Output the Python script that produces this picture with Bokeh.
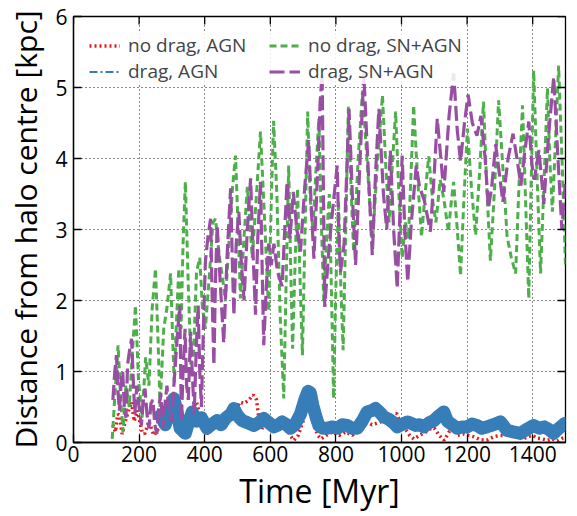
import math
from bokeh.plotting import figure
from bokeh.models import Range1d, Legend, LegendItem, FixedTicker
from bokeh.embed import file_html
from bokeh.resources import INLINE

# ---------------- data ----------------
x_ticks = [0, 200, 400, 600, 800, 1000, 1200, 1400]
y_ticks = [0, 1, 2, 3, 4, 5, 6]
x_lim = [0, 1500]
y_lim = [0, 6]

red_t = [120, 128, 135, 141, 148, 158, 168, 177, 185, 195, 209, 217, 230, 245, 260, 275, 290, 299,
         310, 325, 345, 360, 375, 390, 405, 420, 440, 460, 480, 495, 507, 520, 535, 548, 558, 565,
         575, 590, 610, 625, 635, 645, 660, 672, 685, 700, 711, 720, 733, 745, 755, 770, 790, 810,
         830, 850, 870, 890, 910, 936, 960, 975, 985, 995, 1010, 1025, 1038, 1055, 1075, 1090, 1100,
         1115, 1130, 1145, 1155, 1170, 1190, 1205, 1221, 1240, 1260, 1280, 1300, 1312, 1330, 1350,
         1370, 1384, 1400, 1415, 1429, 1445, 1460, 1475, 1490, 1500]
red_v = [0.25, 0.15, 0.4, 0.38, 0.12, 0.3, 0.45, 0.57, 0.3, 0.45, 0.15, 0.12, 0.3, 0.1, 0.2, 0.35, 0.4, 0.48,
         0.3, 0.1, 0.15, 0.45, 0.57, 0.3, 0.1, 0.25, 0.3, 0.2, 0.35, 0.45, 0.57, 0.55, 0.6, 0.67, 0.6, 0.34,
         0.2, 0.25, 0.2, 0.3, 0.36, 0.25, 0.1, 0.03, 0.1, 0.3, 0.48, 0.45, 0.24, 0.1, 0.05, 0.1, 0.15, 0.1,
         0.15, 0.1, 0.2, 0.3, 0.25, 0.29, 0.3, 0.4, 0.41, 0.3, 0.2, 0.1, 0.05, 0.1, 0.15, 0.2, 0.2,
         0.1, 0.03, 0.15, 0.2, 0.1, 0.12, 0.1, 0.08, 0.04, 0.03, 0.08, 0.1, 0.1, 0.12, 0.08,
         0.05, 0.08, 0.1, 0.06, 0.05, 0.03, 0.05, 0.02, 0.06, 0.08]

blue_t = [265, 280, 295, 306, 315, 325, 341, 352, 362, 375, 390, 407, 420, 438, 450, 465, 480, 489,
          500, 514, 530, 550, 565, 580, 595, 611, 625, 636, 650, 661, 675, 692, 705, 715, 722, 730,
          740, 748, 760, 773, 790, 804, 820, 834, 850, 865, 880, 895, 910, 921, 935, 946, 960, 975,
          987, 1000, 1018, 1030, 1043, 1055, 1068, 1085, 1099, 1115, 1129, 1140, 1155, 1170, 1185,
          1200, 1215, 1230, 1245, 1260, 1280, 1302, 1322, 1340, 1363, 1380, 1403, 1420, 1435, 1450,
          1464, 1480, 1495, 1500]
blue_v = [0.38, 0.25, 0.5, 0.62, 0.45, 0.2, 0.13, 0.3, 0.43, 0.3, 0.35, 0.2, 0.25, 0.31, 0.25, 0.35, 0.4, 0.48,
          0.38, 0.31, 0.28, 0.24, 0.28, 0.34, 0.28, 0.22, 0.25, 0.29, 0.25, 0.2, 0.25, 0.4, 0.6, 0.72, 0.7, 0.52,
          0.35, 0.24, 0.2, 0.2, 0.22, 0.2, 0.25, 0.24, 0.2, 0.2, 0.3, 0.43, 0.45, 0.48, 0.42, 0.36, 0.33, 0.28,
          0.22, 0.25, 0.29, 0.27, 0.24, 0.25, 0.22, 0.28, 0.31, 0.38, 0.43, 0.3, 0.25, 0.2, 0.22,
          0.22, 0.26, 0.24, 0.2, 0.22, 0.25, 0.29, 0.17, 0.15, 0.13, 0.18, 0.24, 0.2, 0.22, 0.18,
          0.13, 0.2, 0.26, 0.27]

green_t = [118, 128, 136, 144, 151, 160, 170, 180, 189, 198, 209, 220, 230, 240, 250, 258, 264, 275,
           285, 296, 302, 307, 314, 321, 328, 334, 341, 350, 358, 366, 375, 385, 393, 402, 415, 425,
           433, 445, 455, 463, 475, 485, 494, 502, 509, 520, 530, 545, 558, 570, 582, 595, 603, 610,
           620, 630, 641, 648, 656, 662, 668, 676, 683, 690, 698, 706, 714, 722, 730, 740, 748, 755,
           763, 772, 780, 787, 793, 800, 808, 815, 822, 830, 838, 846, 854, 868, 881, 896, 911, 926,
           942, 952, 962, 972, 982, 992, 1002, 1012, 1021, 1030, 1037, 1048, 1061, 1072, 1083, 1095,
           1105, 1118, 1130, 1143, 1152, 1159, 1170, 1180, 1190, 1201, 1213, 1226, 1238, 1250, 1260,
           1271, 1284, 1296, 1310, 1322, 1335, 1348, 1358, 1369, 1379, 1388, 1395, 1403, 1413, 1424,
           1434, 1445, 1452, 1460, 1470, 1479, 1490, 1500]
green_v = [0.05, 0.8, 1.37, 0.6, 0.15, 0.8, 0.5, 1.3, 1.93, 0.9, 0.35, 1.2, 0.8, 1.9, 2.45, 1.4, 0.5, 1.6,
           1.9, 2.38, 1.5, 0.85, 1.7, 2.45, 1.6, 2.8, 3.67, 2.2, 1.1, 1.25, 2.4, 2.6, 1.9, 1.6, 2.4, 3.1,
           3.15, 2.6, 2.3, 1.99, 2.9, 3.6, 4.04, 3.0, 2.03, 2.9, 3.6, 2.6, 3.5, 4.38, 3.2, 1.85, 3.4, 4.53,
           3.5, 1.8, 0.62, 2.2, 3.9, 2.5, 1.32, 2.6, 3.58, 2.4, 1.23, 3.0, 4.66, 3.4, 3.0, 3.9, 4.56, 3.2,
           1.99, 2.9, 3.5, 2.0, 0.62, 2.2, 3.4, 2.2, 1.3, 3.0, 4.73, 3.6, 2.69, 4.0, 4.94, 3.9, 2.78, 3.9,
           4.89, 3.9, 3.1, 3.9, 4.66, 3.5, 2.6, 3.1, 2.87, 3.9, 4.75, 3.8, 2.9, 3.5, 4.03, 3.4,
           3.1, 3.7, 3.4, 2.97, 3.4, 3.67, 3.0, 2.35, 3.4, 4.42, 3.6, 2.92, 3.8, 4.8, 3.6,
           2.56, 3.6, 4.82, 3.8, 2.9, 2.6, 2.38, 3.6, 4.75, 3.3, 2.03, 3.6, 5.24, 3.8, 2.38,
           3.6, 4.99, 4.0, 3.25, 4.3, 5.31, 3.9, 2.49]

purple_t = [120, 126, 131, 136, 140, 146, 150, 155, 160, 165, 171, 177, 182, 187, 193, 200, 207, 213,
            218, 224, 230, 236, 242, 248, 254, 260, 266, 272, 278, 285, 292, 300, 306, 312, 318, 324,
            329, 334, 340, 345, 350, 357, 362, 368, 374, 380, 385, 390, 396, 402, 410, 418, 423, 428,
            433, 438, 448, 458, 468, 479, 484, 489, 496, 504, 512, 520, 530, 540, 548, 555, 562, 570,
            575, 580, 588, 595, 603, 611, 622, 636, 644, 651, 660, 670, 681, 692, 705, 717, 725, 733,
            745, 752, 758, 762, 766, 780, 795, 804, 809, 814, 825, 840, 850, 860, 872, 885, 898, 911,
            921, 931, 945, 955, 966, 976, 987, 995, 1002, 1010, 1019, 1030, 1045, 1055, 1070, 1088,
            1100, 1109, 1120, 1129, 1145, 1159, 1170, 1180, 1192, 1203, 1216, 1230, 1242, 1255, 1265,
            1275, 1287, 1298, 1309, 1325, 1340, 1352, 1364, 1376, 1388, 1398, 1405, 1419, 1434, 1448,
            1464, 1477, 1489, 1500]
purple_v = [0.6, 1.0, 1.23, 0.7, 0.45, 0.9, 1.0, 0.5, 0.35, 1.1, 1.3, 1.46, 0.9, 0.4, 0.8, 0.5, 0.24, 0.6,
            0.76, 0.4, 0.2, 0.55, 0.6, 0.25, 0.12, 0.5, 0.7, 0.2, 0.5, 0.8, 0.35, 0.3, 0.8, 1.2, 1.6, 1.93,
            0.29, 1.0, 1.6, 0.8, 0.6, 1.56, 1.0, 0.4, 1.3, 1.93, 1.0, 0.5, 1.6, 2.54, 2.9, 3.15, 2.0, 1.09,
            2.3, 3.06, 2.2, 1.4, 2.6, 3.58, 2.6, 1.79, 2.8, 3.25, 2.5, 2.0, 3.0, 3.72, 2.6, 1.8, 2.9, 3.67,
            2.5, 1.37, 2.2, 2.8, 2.5, 2.8, 2.4, 2.2, 3.0, 3.67, 2.87, 3.53, 3.0, 2.69, 3.6, 4.26, 3.3, 2.59,
            3.9, 4.8, 5.2, 3.5, 1.91, 2.8, 3.5, 3.9, 2.9, 2.4, 2.8, 4.7, 3.5, 2.5, 3.8, 5.2, 3.9, 2.64,
            3.8, 4.7, 3.5, 3.0, 4.11, 3.0, 2.17, 3.2, 4.04, 3.0, 2.26, 3.1, 3.9, 3.6, 3.4, 2.97,
            3.8, 4.56, 4.0, 3.53, 4.6, 5.2, 4.4, 3.96, 4.5, 4.9, 4.5, 4.32, 4.6, 4.0, 3.3,
            3.6, 4.2, 3.8, 3.39, 4.0, 4.35, 4.0, 3.62, 4.1, 4.52, 3.9, 3.7, 4.12, 3.36, 4.3,
            5.15, 4.0, 3.0, 3.7]

labels = ["no drag, AGN", "drag, AGN", "no drag, SN+AGN", "drag, SN+AGN"]
colors = ["#e41a1c", "#377eb8", "#4daf4a", "#984ea3"]

FONT = "Open Sans"

# ---------------- figure ----------------
p = figure(frame_width=492, frame_height=426,
           min_border_left=73, min_border_right=4, min_border_top=16, min_border_bottom=60,
           x_range=Range1d(*x_lim), y_range=Range1d(*y_lim),
           output_backend="svg", toolbar_location=None)
p.background_fill_color = "white"
p.border_fill_color = "white"
p.outline_line_color = "black"
p.outline_line_width = 1.3

r_red = p.line(red_t, red_v, line_color=colors[0], line_width=3.5, line_dash="2 3")
p.line(blue_t, blue_v, line_color=colors[1], line_width=13, line_join="round", line_cap="round")
r_blue = p.line(blue_t, blue_v, line_color=colors[1], line_width=2.2, line_dash="8 3 2 3")
r_green = p.line(green_t, green_v, line_color=colors[2], line_width=3, line_dash="7 4")
r_purple = p.line(purple_t, purple_v, line_color=colors[3], line_width=3.2, line_dash="15 5")

# inward ticks on the top and right edges of the frame
p.scatter(x=x_ticks, y=[y_lim[1]] * len(x_ticks), marker="dash", angle=math.pi / 2,
          size=16, line_color="black", line_width=1.3)
p.scatter(x=[x_lim[1]] * len(y_ticks), y=y_ticks, marker="dash",
          size=16, line_color="black", line_width=1.3)

# axes
for ax in (p.xaxis[0], p.yaxis[0]):
    ax.major_tick_in = 8
    ax.major_tick_out = 0
    ax.minor_tick_line_color = None
    ax.axis_line_color = "black"
    ax.axis_line_width = 1.3
    ax.major_tick_line_color = "black"
    ax.major_tick_line_width = 1.3
    ax.major_label_text_font = FONT
    ax.major_label_text_font_size = "21px"
    ax.major_label_text_color = "black"
    ax.axis_label_text_font = FONT
    ax.axis_label_text_font_style = "normal"
    ax.axis_label_text_color = "black"

p.xaxis.ticker = FixedTicker(ticks=x_ticks)
p.yaxis.ticker = FixedTicker(ticks=y_ticks)
p.xaxis.axis_label = "Time [Myr]"
p.xaxis.axis_label_text_font_size = "32px"
p.xaxis.major_label_standoff = 3
p.xaxis.axis_label_standoff = 4
p.yaxis.axis_label = "Distance from halo centre [kpc]"
p.yaxis.axis_label_text_font_size = "30px"
p.yaxis.major_label_standoff = 6
p.yaxis.axis_label_standoff = 6

# grid
for g in (p.xgrid[0], p.ygrid[0]):
    g.grid_line_color = "black"
    g.grid_line_dash = "1 3"
    g.grid_line_width = 1
    g.grid_line_alpha = 0.9
p.xgrid.ticker = FixedTicker(ticks=x_ticks)
p.ygrid.ticker = FixedTicker(ticks=y_ticks)

legend = Legend(items=[LegendItem(label=labels[0], renderers=[r_red]),
                       LegendItem(label=labels[1], renderers=[r_blue]),
                       LegendItem(label=labels[2], renderers=[r_green]),
                       LegendItem(label=labels[3], renderers=[r_purple])],
                location="top_left", ncols=2,
                label_text_font=FONT, label_text_font_size="19px",
                glyph_width=31, glyph_height=23, label_height=23, label_width=141,
                label_standoff=8, spacing=0, padding=20, margin=16,
                border_line_color=None, background_fill_color="white",
                background_fill_alpha=0.85)
p.add_layout(legend)

open("out.html", "w").write(file_html(p, INLINE))
